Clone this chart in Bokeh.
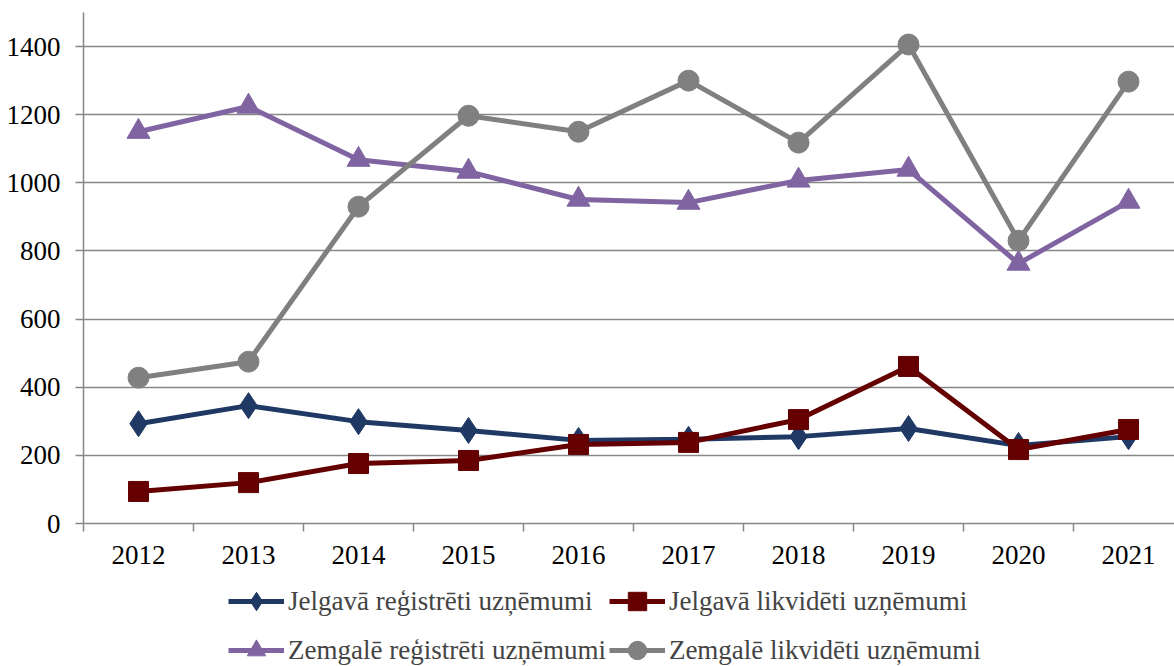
from bokeh.plotting import figure
from bokeh.models import Range1d, FixedTicker, Legend, LegendItem
from bokeh.layouts import column
from bokeh.embed import file_html
from bokeh.resources import INLINE

years = [2012, 2013, 2014, 2015, 2016, 2017, 2018, 2019, 2020, 2021]
jelgava_reg = [293, 346, 299, 273, 244, 247, 255, 279, 229, 255]
jelgava_likv = [94, 120, 176, 185, 232, 238, 305, 461, 217, 276]
zemgale_reg = [1150, 1224, 1068, 1033, 951, 942, 1007, 1039, 763, 945]
zemgale_likv = [428, 475, 930, 1197, 1150, 1300, 1118, 1406, 830, 1297]
y_ticks = [0, 200, 400, 600, 800, 1000, 1200, 1400]

series_names = [
    "Jelgavā reģistrēti uzņēmumi",
    "Jelgavā likvidēti uzņēmumi",
    "Zemgalē reģistrēti uzņēmumi",
    "Zemgalē likvidēti uzņēmumi",
]

FONT = "Liberation Serif"
GRID = "#878787"

xs = list(range(len(years)))

MAIN_H = 580
LEG_H = 86

p = figure(width=1174, height=MAIN_H, output_backend="svg", toolbar_location=None,
           title=None,
           x_range=Range1d(-0.5, 9.418), y_range=Range1d(0, 1500),
           min_border_left=83, min_border_right=0, min_border_top=12,
           min_border_bottom=MAIN_H - 523)
p.outline_line_color = None
p.xgrid.visible = False
p.ygrid.grid_line_color = GRID
p.ygrid.grid_line_width = 1.5
p.ygrid.ticker = FixedTicker(ticks=y_ticks)

p.yaxis.ticker = FixedTicker(ticks=y_ticks)
p.yaxis.axis_line_color = GRID
p.yaxis.axis_line_width = 1.5
p.yaxis.major_tick_line_color = GRID
p.yaxis.major_tick_line_width = 1.5
p.yaxis.major_tick_out = 8
p.yaxis.major_tick_in = 0
p.yaxis.minor_tick_line_color = None
p.yaxis.major_label_standoff = 15

p.xaxis.ticker = FixedTicker(ticks=xs, minor_ticks=[i - 0.5 for i in range(len(years) + 1)])
p.xaxis.major_label_overrides = {i: str(y) for i, y in zip(xs, years)}
p.xaxis.axis_line_color = GRID
p.xaxis.axis_line_width = 1.5
p.xaxis.major_tick_line_color = None
p.xaxis.major_tick_out = 0
p.xaxis.major_tick_in = 0
p.xaxis.minor_tick_line_color = GRID
p.xaxis.minor_tick_line_width = 1.5
p.xaxis.minor_tick_out = 8
p.xaxis.minor_tick_in = 0
p.xaxis.major_label_standoff = 14

for ax in (p.xaxis, p.yaxis):
    ax.major_label_text_font = FONT
    ax.major_label_text_font_size = "27px"
    ax.major_label_text_color = "#000000"

styles = [
    (jelgava_reg, "#1F3864", "diamond", 26),
    (jelgava_likv, "#640000", "square", 20),
    (zemgale_reg, "#8064A2", "triangle", 23),
    (zemgale_likv, "#808080", "circle", 21),
]

# legend figure (holds the legend below the chart); its ranges keep the data out of view
lg = figure(width=1174, height=LEG_H, output_backend="svg", toolbar_location=None,
            title=None, x_range=Range1d(100, 101), y_range=Range1d(-100, -99),
            min_border_left=0, min_border_right=0, min_border_top=0,
            min_border_bottom=0)
lg.axis.visible = False
lg.grid.visible = False
lg.outline_line_color = None

items = []
for (vals, color, marker, size), name in zip(styles, series_names):
    p.line(xs, vals, line_color=color, line_width=5)
    p.scatter(xs, vals, marker=marker, size=size, fill_color=color, line_color=color)
    ln = lg.line(xs, vals, line_color=color, line_width=5)
    sc = lg.scatter(xs, vals, marker=marker, size=size, fill_color=color, line_color=color)
    items.append(LegendItem(label=name, renderers=[ln, sc]))

ordered = [items[0], items[2], items[1], items[3]]
legend = Legend(items=ordered, ncols=2, location=(145, -7), spacing=3,
                glyph_width=56, glyph_height=46, label_standoff=4,
                padding=0, margin=0, border_line_color=None,
                background_fill_alpha=0, label_text_font=FONT,
                label_text_font_size="27px", label_height=27)
lg.add_layout(legend, "center")

layout = column(p, lg, spacing=0)
open("out.html", "w").write(file_html(layout, INLINE))
